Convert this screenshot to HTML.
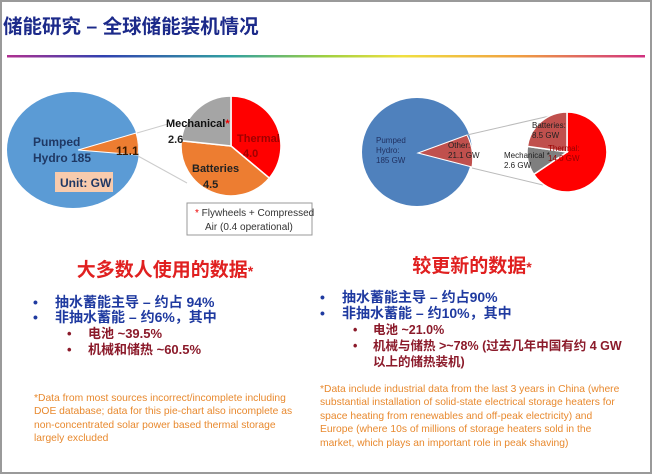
<!DOCTYPE html>
<html><head><meta charset="utf-8"><style>
html,body{margin:0;padding:0;background:#fff}
body{width:652px;height:474px;overflow:hidden;position:relative;font-family:"Liberation Sans","Noto Sans CJK SC",sans-serif}
.frame{position:absolute;left:0;top:0;width:648px;height:470px;border:2px solid #9a9a9a}
svg{position:absolute;left:0;top:0}
</style></head><body>
<div class="frame"></div>
<svg width="652" height="474" viewBox="0 0 652 474" font-family="Liberation Sans, Noto Sans CJK SC, sans-serif">
<defs><linearGradient id="rb" x1="0" x2="1" y1="0" y2="0">
<stop offset="0" stop-color="#b03090"/><stop offset="0.15" stop-color="#3040b0"/><stop offset="0.35" stop-color="#30a0a0"/><stop offset="0.5" stop-color="#a0d040"/><stop offset="0.62" stop-color="#f0e040"/><stop offset="0.8" stop-color="#f0a040"/><stop offset="1" stop-color="#d03080"/></linearGradient></defs>
<text x="3" y="33" font-size="19.5" font-weight="bold" fill="#1c2a8a" font-family="Liberation Sans, Noto Sans CJK SC, sans-serif">储能研究 – 全球储能装机情况</text>
<rect x="7" y="55" width="638" height="2.5" fill="url(#rb)"/>

<!-- pie 1 -->
<ellipse cx="73" cy="150" rx="66" ry="58" fill="#5b9bd5"/>
<path d="M78,150 L136,133 A66,58 0 0 1 138,155 Z" fill="#ed7d31" stroke="#fff" stroke-width="1"/>
<line x1="137" y1="133" x2="168" y2="124" stroke="#ccc" stroke-width="1"/>
<line x1="138" y1="156" x2="187" y2="183" stroke="#ccc" stroke-width="1"/>
<path d="M231,146 L231,96 A50,50 0 0 1 269.3,178.1 Z" fill="#ff0000" stroke="#fff" stroke-width="1.5"/>
<path d="M231,146 L269.3,178.1 A50,50 0 0 1 181.3,140.8 Z" fill="#ed7d31" stroke="#fff" stroke-width="1.5"/>
<path d="M231,146 L181.3,140.8 A50,50 0 0 1 231,96 Z" fill="#a5a5a5" stroke="#fff" stroke-width="1.5"/>
<g font-weight="bold" font-size="12" fill="#1f3864">
<text x="33" y="146">Pumped</text><text x="33" y="162">Hydro 185</text>
<text x="116" y="155" fill="#3a1a00">11.1</text></g>
<rect x="55" y="172" width="58" height="20" fill="#f8cbad"/>
<text x="60" y="187" font-size="12" font-weight="bold" fill="#1f3864">Unit: GW</text>
<g font-weight="bold" font-size="11">
<text x="166" y="127" fill="#111">Mechanical<tspan fill="#e00">*</tspan></text>
<text x="168" y="143" fill="#222">2.6</text>
<text x="237" y="142" fill="#a00000">Thermal</text><text x="243" y="157" fill="#a00000">4.0</text>
<text x="192" y="172" fill="#222">Batteries</text><text x="203" y="188" fill="#222">4.5</text></g>
<rect x="187" y="203" width="125" height="32" fill="#fff" stroke="#999" stroke-width="1"/>
<text x="195" y="216" font-size="10" fill="#333"><tspan fill="#e00">*</tspan> Flywheels + Compressed</text>
<text x="205" y="230" font-size="10" fill="#333">Air (0.4 operational)</text>

<!-- pie 3 -->
<ellipse cx="417" cy="152" rx="55" ry="54" fill="#4f81bd"/>
<path d="M418,153 L467,135 A55,54 0 0 1 472,167 Z" fill="#c0504d" stroke="#fff" stroke-width="1"/>
<line x1="467" y1="135" x2="567" y2="112" stroke="#bbb" stroke-width="1"/>
<line x1="472" y1="168" x2="543" y2="185" stroke="#bbb" stroke-width="1"/>
<path d="M567,152 L567,112 A40,40 0 1 1 533.8,174.4 Z" fill="#ff0000" stroke="#fff" stroke-width="1.5"/>
<path d="M567,152 L533.8,174.4 A40,40 0 0 1 527.4,146.4 Z" fill="#7f7f7f" stroke="#fff" stroke-width="1.5"/>
<path d="M567,152 L527.4,146.4 A40,40 0 0 1 567,112 Z" fill="#c0504d" stroke="#fff" stroke-width="1.5"/>
<g font-size="8" fill="#1f2f5f">
<text x="376" y="143">Pumped</text><text x="376" y="153">Hydro:</text><text x="376" y="163">185 GW</text></g>
<g font-size="8" fill="#222">
<text x="448" y="148">Other:</text><text x="448" y="158">21.1 GW</text>
<text x="532" y="128">Batteries:</text><text x="532" y="138">8.5 GW</text>
<text x="504" y="158">Mechanical *</text><text x="504" y="168">2.6 GW</text>
<text x="548" y="151" fill="#900">Thermal:</text><text x="548" y="161" fill="#900">14.0 GW</text></g>

<!-- left text -->
<text x="165" y="276" text-anchor="middle" font-size="19" font-weight="bold" fill="#e02020">大多数人使用的数据<tspan font-size="14">*</tspan></text>
<g font-size="14" font-weight="bold" fill="#1f3aa0">
<text x="33" y="307">•</text><text x="55" y="307">抽水蓄能主导 – 约占 94%</text>
<text x="33" y="322">•</text><text x="55" y="322">非抽水蓄能 – 约6%，其中</text></g>
<g font-size="13" font-weight="bold" fill="#8b1a2a">
<text x="67" y="338">•</text><text x="88" y="338">电池 ~39.5%</text>
<text x="67" y="354">•</text><text x="88" y="354">机械和储热 ~60.5%</text></g>
<g font-size="10.3" fill="#e8892e">
<text x="34" y="401">*Data from most sources incorrect/incomplete including</text>
<text x="34" y="414">DOE database; data for this pie-chart also incomplete as</text>
<text x="34" y="428">non-concentrated solar power based thermal storage</text>
<text x="34" y="441">largely excluded</text></g>

<!-- right text -->
<text x="472" y="272" text-anchor="middle" font-size="19" font-weight="bold" fill="#e02020">较更新的数据<tspan font-size="14">*</tspan></text>
<g font-size="14" font-weight="bold" fill="#1f3aa0">
<text x="320" y="302">•</text><text x="342" y="302">抽水蓄能主导 – 约占90%</text>
<text x="320" y="318">•</text><text x="342" y="318">非抽水蓄能 – 约10%，其中</text></g>
<g font-size="12.5" font-weight="bold" fill="#8b1a2a">
<text x="353" y="334">•</text><text x="373" y="334">电池 ~21.0%</text>
<text x="353" y="350">•</text><text x="373" y="350">机械与储热 &gt;~78% (过去几年中国有约 4 GW</text>
<text x="373" y="366">以上的储热装机)</text></g>
<g font-size="10.3" fill="#e8892e">
<text x="320" y="392">*Data include industrial data from the last 3 years in China (where</text>
<text x="320" y="405">substantial installation of solid-state electrical storage heaters for</text>
<text x="320" y="419">space heating from renewables and off-peak electricity) and</text>
<text x="320" y="432">Europe (where 10s of millions of storage heaters sold in the</text>
<text x="320" y="446">market, which plays an important role in peak shaving)</text></g>
</svg>
</body></html>
